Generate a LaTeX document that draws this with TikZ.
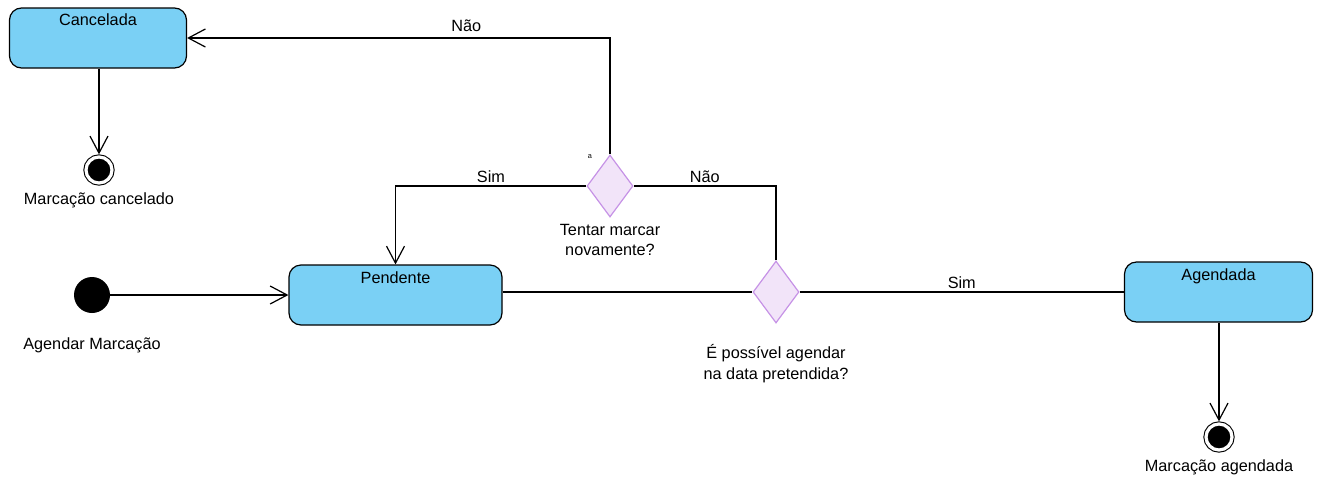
\documentclass[tikz,border=0pt]{standalone}
\usepackage{fontspec}
\setmainfont{Liberation Sans}
\usetikzlibrary{shapes.geometric, arrows.meta}
\definecolor{stateblue}{RGB}{122,208,245}
\definecolor{decfill}{RGB}{242,228,249}
\definecolor{decdraw}{RGB}{198,146,230}

\tikzset{
  statebox/.style={draw, rounded corners=9pt, fill=stateblue, line width=0.9pt, inner sep=0pt, minimum height=45pt},
  decision/.style={diamond, draw=decdraw, fill=decfill, line width=0.9pt, inner sep=0pt, minimum width=34.5pt, minimum height=46.5pt},
  startdot/.style={circle, fill=black, inner sep=0pt, minimum size=27pt},
  enddot/.style={circle, draw, fill=black, double=white, double distance=2.4pt, line width=0.8pt, inner sep=0pt, minimum size=19.5pt, outer sep=2pt},
  flow/.style={line width=0.9pt}
}

\begin{document}
\begin{tikzpicture}[x=0.75pt,y=0.75pt,yscale=-1,xscale=1, font=\fontsize{12.2}{15.5}\selectfont, >={Straight Barb[length=12.75pt,width=13.5pt]}]
    \useasboundingbox (0,0) rectangle (1341,486);

    %Shape: Rounded Rect
    \node [statebox, minimum width=132.75pt, label={[anchor=north, inner sep=0pt, label distance=-4.8pt]north:Cancelada}] (canc) at (98,38) {};
    \node [statebox, minimum width=159.75pt, label={[anchor=north, inner sep=0pt, label distance=-5.3pt]north:Pendente}] (pend) at (395.5,295) {};
    \node [statebox, minimum width=141pt, label={[anchor=north, inner sep=0pt, label distance=-5.3pt]north:Agendada}] (agend) at (1218.5,292) {};

    %Shape: Circle
    \node [startdot, label={[inner sep=0pt, label distance=18pt]below:Agendar Marcação}] (start) at (92,295) {};
    \node [enddot, label={[inner sep=0pt, label distance=5pt]below:Marcação cancelado}] (fin1) at (99,170) {};
    \node [enddot, label={[inner sep=0pt, label distance=5pt]below:Marcação agendada}] (fin2) at (1219,437) {};

    %Shape: Diamond
    \node [decision, label={[align=center, inner sep=0pt, label distance=4.7pt]below:Tentar marcar\\novamente?}] (dec1) at (610,186) {};
    \node [decision, label={[align=center, inner sep=0pt, label distance=15.5pt]below:É possível agendar\\na data pretendida?}] (dec2) at (776,292) {};

    % Text Node
    \node [inner sep=0pt, font=\fontsize{5.5}{6}\selectfont] (mark) at (590,157) {a};

    %Straight Lines
    \draw [flow, ->] (start) -- (pend);
    \draw [flow] (pend.east |- dec2.west) -- (dec2.west);
    \draw [flow] (dec2.east) -- (agend.west) node [midway, above, inner sep=2.2pt] {Sim};
    \draw [flow] (dec2.north) |- (dec1.east) node [pos=0.75, above, inner sep=2.2pt] {Não};
    \draw [flow, ->] (dec1.west) -| (pend.north) node [pos=0.25, above, inner sep=2.2pt] {Sim};
    \draw [flow, ->] (dec1.north) |- (canc.east) node [pos=0.67, above, inner sep=4pt] {Não};
    \draw [flow, ->] (canc.south -| fin1) -- (fin1);
    \draw [flow, ->] (agend.south -| fin2) -- (fin2);

\end{tikzpicture}
\end{document}
